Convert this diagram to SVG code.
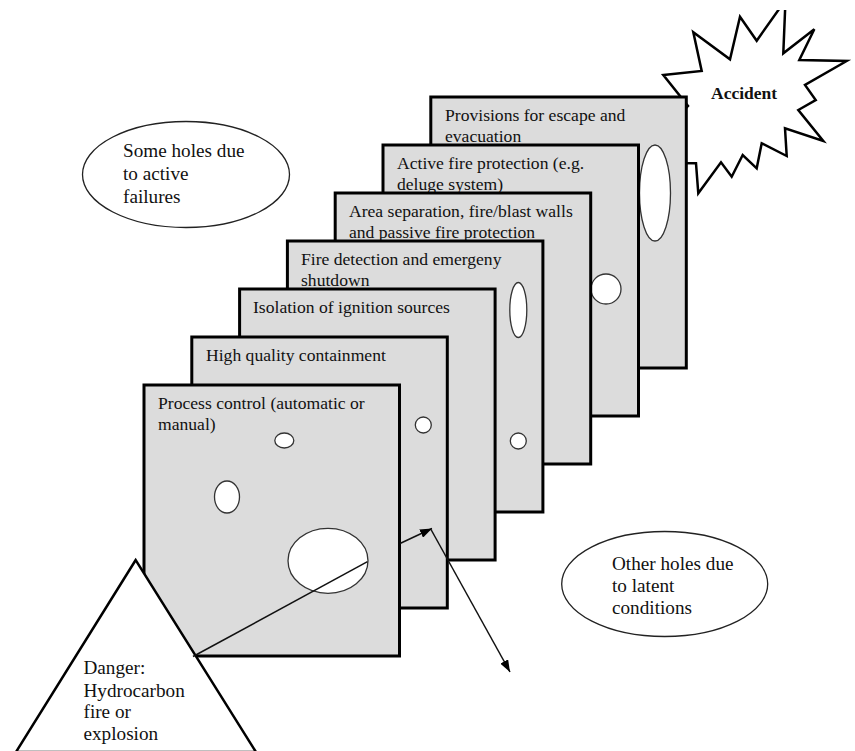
<svg xmlns="http://www.w3.org/2000/svg" width="855" height="751" viewBox="0 0 855 751">
<style>
  .panel { fill: #dcdcdc; stroke: #000; stroke-width: 3; }
  .hole { fill: #fff; stroke: #333; stroke-width: 1.3; }
  .ptext { font-family: "Liberation Serif", "Times New Roman", serif; font-size: 17.6px; fill: #111; }
  .ctext { font-family: "Liberation Serif", "Times New Roman", serif; font-size: 19.2px; fill: #111; }
  .callout { fill: #fff; stroke: #222; stroke-width: 1.3; }
  .conn { fill: none; stroke: #111; stroke-width: 1.5; }
</style>
<defs>
  <marker id="arrow" markerUnits="userSpaceOnUse" markerWidth="13" markerHeight="9" refX="12" refY="4.5" orient="auto">
    <path d="M0,0 L12,4.5 L0,9 z" fill="#000"/>
  </marker>
  <clipPath id="topclip"><rect x="0" y="10" width="855" height="741"/></clipPath>
</defs>

<g id="accident" clip-path="url(#topclip)">
  <polygon points="785.5,0 783.3,53.3 814.3,29.3 799.3,60 846.7,61 805,85 815.7,100 798.3,110 823.3,141 785,128.3 786.7,156 761.7,143.3 756.7,168.3 742.7,155 731.7,176.7 721,162.3 698.3,193.3 696,163.3 670,163 675,120 688,106 663.3,75 701.7,71 693.3,32.3 730,59.3 740,16.7 756.7,40.7" fill="#fff" stroke="#000" stroke-width="2.5" stroke-linejoin="miter"/>
  <text x="711" y="99" font-family="Liberation Serif, Times New Roman, serif" font-size="17.5" font-weight="bold" fill="#111">Accident</text>
</g>

<g id="panel7">
  <rect class="panel" x="430.8" y="97" width="255.5" height="271"/>
  <text class="ptext" x="445" y="121">Provisions for escape and</text>
  <text class="ptext" x="445" y="142">evacuation</text>
  <ellipse class="hole" cx="655" cy="193" rx="15.5" ry="48"/>
</g>
<g id="panel6">
  <rect class="panel" x="383" y="145" width="255.5" height="271"/>
  <text class="ptext" x="397" y="169">Active fire protection (e.g.</text>
  <text class="ptext" x="397" y="190">deluge system)</text>
  <circle class="hole" cx="606" cy="289" r="15"/>
</g>
<g id="panel5">
  <rect class="panel" x="335.2" y="193" width="255.5" height="271"/>
  <text class="ptext" x="349" y="217">Area separation, fire/blast walls</text>
  <text class="ptext" x="349" y="238">and passive fire protection</text>
</g>
<g id="panel4">
  <rect class="panel" x="287.4" y="241" width="255.5" height="271"/>
  <text class="ptext" x="301" y="265">Fire detection and emergeny</text>
  <text class="ptext" x="301" y="286">shutdown</text>
  <ellipse class="hole" cx="518.3" cy="310" rx="8.5" ry="27.5"/>
  <circle class="hole" cx="518.3" cy="441" r="8"/>
</g>
<g id="panel3">
  <rect class="panel" x="239.6" y="289" width="255.5" height="271"/>
  <text class="ptext" x="253" y="313">Isolation of ignition sources</text>
</g>
<g id="panel2">
  <rect class="panel" x="191.8" y="337" width="255.5" height="271"/>
  <text class="ptext" x="206" y="361">High quality containment</text>
  <circle class="hole" cx="423.3" cy="425" r="8"/>
</g>
<g id="panel1">
  <rect class="panel" x="144" y="385" width="255.5" height="271"/>
  <text class="ptext" x="158" y="409">Process control (automatic or</text>
  <text class="ptext" x="158" y="430">manual)</text>
  <ellipse class="hole" cx="284.3" cy="440.5" rx="9.5" ry="7.5"/>
  <ellipse class="hole" cx="227" cy="497" rx="12.5" ry="16"/>
  <ellipse class="hole" cx="328" cy="560.8" rx="40" ry="32.5"/>
</g>

<g id="active-failures">
  <ellipse class="callout" cx="186" cy="174.5" rx="103.5" ry="53"/>
  <text class="ctext" x="123" y="157">Some holes due</text>
  <text class="ctext" x="123" y="180">to active</text>
  <text class="ctext" x="123" y="202.5">failures</text>
</g>

<g id="latent-conditions">
  <ellipse class="callout" cx="664.7" cy="584" rx="103" ry="52.5"/>
  <text class="ctext" x="612" y="570">Other holes due</text>
  <text class="ctext" x="612" y="592">to latent</text>
  <text class="ctext" x="612" y="614">conditions</text>
</g>

<g id="danger">
  <polygon points="135.7,560 16,752 256,752" fill="#fff" stroke="#000" stroke-width="2.5"/>
  <text class="ctext" x="83.5" y="674">Danger:</text>
  <text class="ctext" x="83.5" y="696.5">Hydrocarbon</text>
  <text class="ctext" x="83.5" y="718">fire or</text>
  <text class="ctext" x="83.5" y="740">explosion</text>
</g>

<g id="connectors">
  <line class="conn" x1="193" y1="656.5" x2="367.5" y2="561.7"/>
  <line class="conn" x1="400" y1="543.5" x2="432" y2="528.5" marker-end="url(#arrow)"/>
  <line class="conn" x1="431" y1="529.5" x2="510" y2="672" marker-end="url(#arrow)"/>
</g>
</svg>
